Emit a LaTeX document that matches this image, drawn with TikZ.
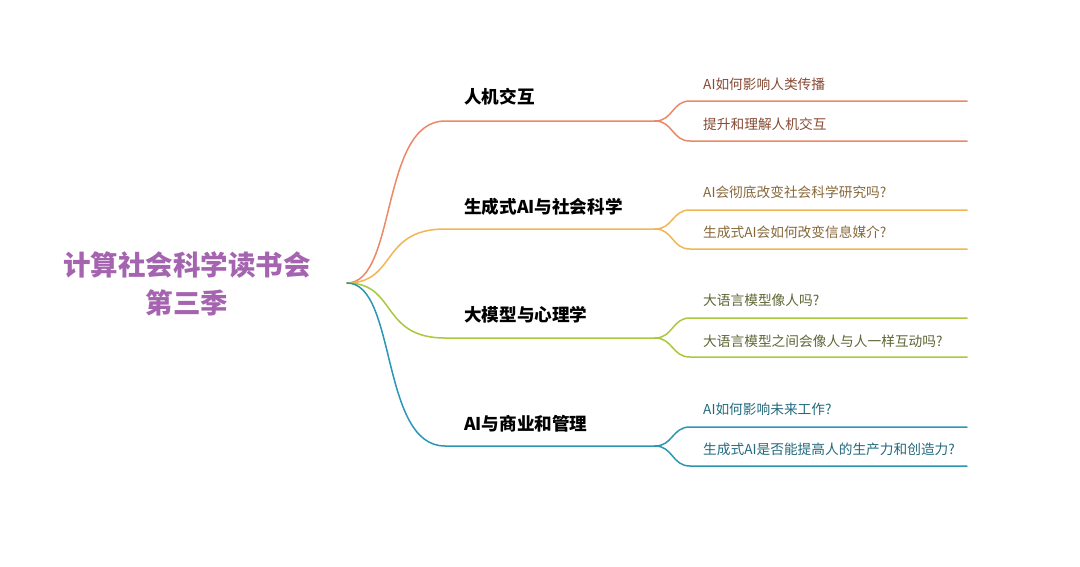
\documentclass[tikz,border=0pt]{standalone}
\usepackage{fontspec}
\setmainfont{Noto Sans CJK SC}
\definecolor{titlecol}{HTML}{A564AF}
\definecolor{hcicol}{HTML}{EB8866}
\definecolor{hcitxt}{HTML}{874A34}
\definecolor{gencol}{HTML}{F2B654}
\definecolor{gentxt}{HTML}{87683A}
\definecolor{llmcol}{HTML}{AAC83E}
\definecolor{llmtxt}{HTML}{5E6634}
\definecolor{bizcol}{HTML}{2A97B4}
\definecolor{biztxt}{HTML}{236A7E}
\begin{document}
\begin{tikzpicture}[x=1pt,y=-1pt,
    topic/.style={font=\fontsize{17.6}{20}\selectfont\bfseries,anchor=west,inner sep=0pt},
    leaf/.style={font=\fontsize{13.7}{16}\selectfont,anchor=west,inner sep=0pt},
    edge/.style={line width=1.5pt,line cap=round}]

    \fill[white] (0,0) rectangle (1080,566);
    \useasboundingbox (0,0) rectangle (1080,566);

    \node[align=center,text=titlecol,font=\fontsize{27.5}{38}\selectfont\bfseries] (title) at (187,284) {计算社会科学读书会\\第三季};
    \coordinate (root) at (347,283);

    % 人机交互
    \node[topic] (hci) at (464,97) {人机交互};
    \coordinate (hciA) at (445,121);
    \coordinate (hciB) at (655,121);
    \draw[edge,hcicol] (root) .. controls +(50,0) and +(-65,0) .. (hciA) -- (hciB);
    \node[leaf,text=hcitxt] (hci1) at (703,84) {AI如何影响人类传播};
    \node[leaf,text=hcitxt] (hci2) at (703,124) {提升和理解人机交互};
    \coordinate (hci1a) at (690,101); \coordinate (hci1b) at (967,101);
    \coordinate (hci2a) at (690,141); \coordinate (hci2b) at (967,141);
    \draw[edge,hcicol] (hciB) .. controls +(18,0) and +(-18,0) .. (hci1a) -- (hci1b);
    \draw[edge,hcicol] (hciB) .. controls +(18,0) and +(-18,0) .. (hci2a) -- (hci2b);

    % 生成式AI与社会科学
    \node[topic] (gen) at (464,207) {生成式AI与社会科学};
    \coordinate (genA) at (445,229);
    \coordinate (genB) at (655,229);
    \draw[edge,gencol] (root) .. controls +(50,0) and +(-65,0) .. (genA) -- (genB);
    \node[leaf,text=gentxt] (gen1) at (703,192) {AI会彻底改变社会科学研究吗?};
    \node[leaf,text=gentxt] (gen2) at (703,232) {生成式AI会如何改变信息媒介?};
    \coordinate (gen1a) at (690,210); \coordinate (gen1b) at (967,210);
    \coordinate (gen2a) at (690,249); \coordinate (gen2b) at (967,249);
    \draw[edge,gencol] (genB) .. controls +(18,0) and +(-18,0) .. (gen1a) -- (gen1b);
    \draw[edge,gencol] (genB) .. controls +(18,0) and +(-18,0) .. (gen2a) -- (gen2b);

    % 大模型与心理学
    \node[topic] (llm) at (464,315) {大模型与心理学};
    \coordinate (llmA) at (445,338);
    \coordinate (llmB) at (655,338);
    \draw[edge,llmcol] (root) .. controls +(50,0) and +(-65,0) .. (llmA) -- (llmB);
    \node[leaf,text=llmtxt] (llm1) at (703,300) {大语言模型像人吗?};
    \node[leaf,text=llmtxt] (llm2) at (703,341) {大语言模型之间会像人与人一样互动吗?};
    \coordinate (llm1a) at (690,318); \coordinate (llm1b) at (967,318);
    \coordinate (llm2a) at (690,357); \coordinate (llm2b) at (967,357);
    \draw[edge,llmcol] (llmB) .. controls +(18,0) and +(-18,0) .. (llm1a) -- (llm1b);
    \draw[edge,llmcol] (llmB) .. controls +(18,0) and +(-18,0) .. (llm2a) -- (llm2b);

    % AI与商业和管理
    \node[topic] (biz) at (464,424) {AI与商业和管理};
    \coordinate (bizA) at (445,446);
    \coordinate (bizB) at (655,446);
    \draw[edge,bizcol] (root) .. controls +(50,0) and +(-65,0) .. (bizA) -- (bizB);
    \node[leaf,text=biztxt] (biz1) at (703,409) {AI如何影响未来工作?};
    \node[leaf,text=biztxt] (biz2) at (703,449) {生成式AI是否能提高人的生产力和创造力?};
    \coordinate (biz1a) at (690,427); \coordinate (biz1b) at (967,427);
    \coordinate (biz2a) at (690,466); \coordinate (biz2b) at (967,466);
    \draw[edge,bizcol] (bizB) .. controls +(18,0) and +(-18,0) .. (biz1a) -- (biz1b);
    \draw[edge,bizcol] (bizB) .. controls +(18,0) and +(-18,0) .. (biz2a) -- (biz2b);

\end{tikzpicture}
\end{document}
